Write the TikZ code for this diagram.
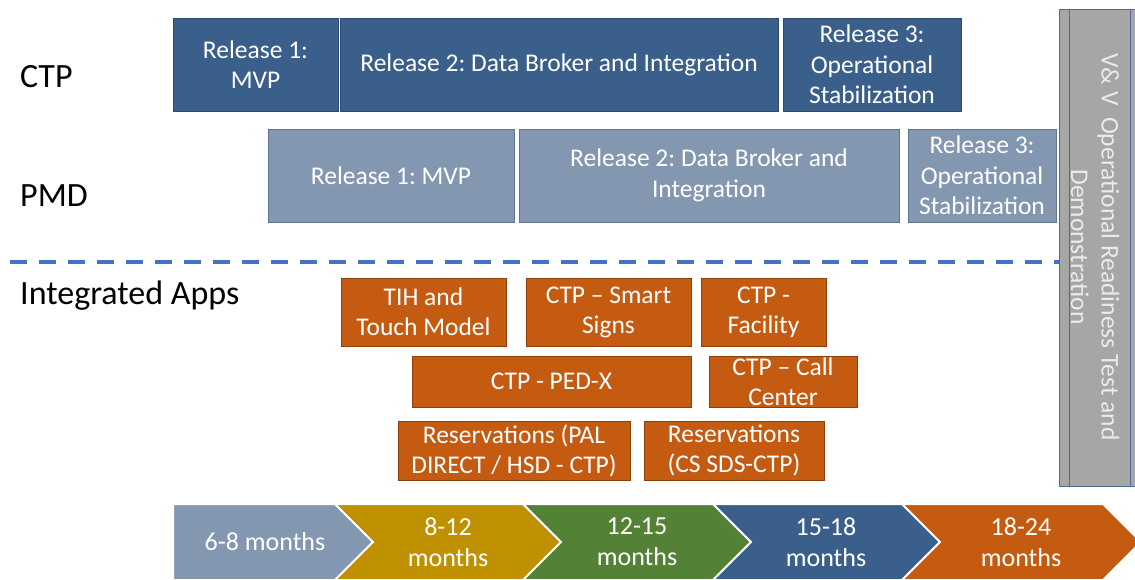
\documentclass[tikz,border=0pt]{standalone}
\usepackage{fontspec}
\setmainfont{Carlito}
\usepackage{xcolor}
\frenchspacing
\definecolor{ctpblue}{HTML}{3A5F8B}
\definecolor{ctpedge}{HTML}{2C4A6E}
\definecolor{pmdblue}{HTML}{8497B0}
\definecolor{pmdedge}{HTML}{5E7593}
\definecolor{apporange}{HTML}{C55A11}
\definecolor{appedge}{HTML}{8E3F0B}
\definecolor{barblue}{HTML}{4472C4}
\definecolor{vvgray}{HTML}{A6A6A6}
\definecolor{vvedge}{HTML}{4A6A9A}
\definecolor{gold}{HTML}{BF9000}
\definecolor{leaf}{HTML}{538135}
\tikzset{
  boxtext/.style={text=white, align=center, inner sep=0pt, font=\fontsize{25.5}{30.5}\selectfont},
  ctpbox/.style={boxtext, rectangle, fill=ctpblue, draw=ctpedge, line width=0.8pt, minimum height=93pt},
  pmdbox/.style={boxtext, rectangle, fill=pmdblue, draw=pmdedge, line width=0.8pt, minimum height=93pt},
  appbox/.style={boxtext, rectangle, fill=apporange, draw=appedge, line width=0.8pt, font=\fontsize{25.5}{30}\selectfont},
  rowlabel/.style={anchor=west, inner sep=0pt, font=\fontsize{34}{38}\selectfont},
  chevtext/.style={boxtext, font=\fontsize{26}{31}\selectfont}
}
\begin{document}
\begin{tikzpicture}[x=1pt, y=-1pt]
\useasboundingbox (0,0) rectangle (1135,580);
% row labels
\node[rowlabel] (ctp) at (20,77) {CTP};
\node[rowlabel] (pmd) at (20,196) {PMD};
\node[rowlabel] (apps) at (20,296) {Integrated Apps};
% CTP releases
\node[ctpbox, minimum width=165pt] (A) at (255.5,64.5) {Release 1:\\MVP};
\node[ctpbox, minimum width=438pt] (B) at (559,64.5) {Release 2: Data Broker and Integration};
\node[ctpbox, minimum width=178pt] (C) at (872,64.5) {Release 3:\\Operational\\Stabilization};
% PMD releases
\node[pmdbox, minimum width=246pt] (D) at (391,175.5) {Release 1: MVP};
\node[pmdbox, minimum width=380pt] (E) at (709,175.5) {Release 2: Data Broker and\\Integration};
\node[pmdbox, minimum width=148pt] (F) at (982,175.5) {Release 3:\\Operational\\Stabilization};
% V&V bar
\node[rectangle, fill=vvgray, draw=vvedge, line width=0.8pt, minimum width=85pt, minimum height=477pt] (vv) at (1101.5,247.5) {};
\node[rectangle, fill=vvgray, draw=vvedge, line width=0.8pt, minimum width=61pt, minimum height=477pt] (vvin) at (1099.5,247.5) {};
\node[boxtext, text=white!92!black, rotate=-90] (vvtext) at (1095,247) {V\&{} V\ \ Operational Readiness Test and\\Demonstration};
% divider
\coordinate (dashL) at (10,262);
\draw[barblue, line width=4pt, dash pattern=on 17pt off 12pt] (dashL) -- (vv.west|-dashL);
% integrated apps
\node[appbox, minimum width=165pt, minimum height=68pt] (G) at (423.5,312) {TIH and\\Touch Model};
\node[appbox, minimum width=165pt, minimum height=68pt] (H) at (608.5,312) {CTP -- Smart\\Signs};
\node[appbox, minimum width=125pt, minimum height=68pt] (I) at (763.5,312) {CTP -\\Facility};
\node[appbox, minimum width=279pt, minimum height=51pt] (J) at (551.5,381.5) {CTP - PED-X};
\node[appbox, minimum width=148pt, minimum height=51pt] (K) at (783,381.5) {CTP -- Call\\Center};
\node[appbox, minimum width=232pt, minimum height=59pt] (L) at (514,450.5) {Reservations (PAL\\DIRECT / HSD - CTP)};
\node[appbox, minimum width=180pt, minimum height=59pt] (M) at (734,450.5) {Reservations\\(CS SDS-CTP)};
% timeline chevrons
\fill[pmdblue, draw=white, line width=2pt] (173,504) -- (335,504) -- (373,542) -- (335,580) -- (173,580) -- cycle;
\foreach \xa/\xb/\col in {335/523/gold, 523/713/leaf, 713/902/ctpblue, 902/1103/apporange}
  \fill[\col, draw=white, line width=2pt] (\xa,504) -- (\xb,504) -- (\xb+38,542) -- (\xb,580) -- (\xa,580) -- (\xa+38,542) -- cycle;
\node[chevtext] (m1) at (265,542) {6-8 months};
\node[chevtext] (m2) at (448,542) {8-12\\months};
\node[chevtext] (m3) at (637,542) {12-15\\months};
\node[chevtext] (m4) at (826,542) {15-18\\months};
\node[chevtext] (m5) at (1021,542) {18-24\\months};
\end{tikzpicture}
\end{document}
